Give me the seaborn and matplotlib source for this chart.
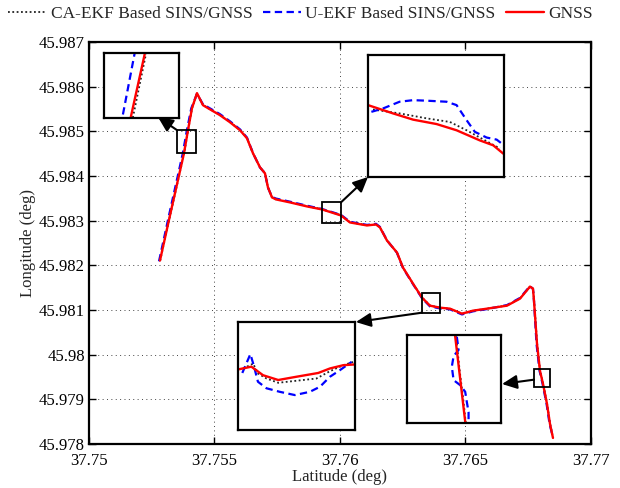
import matplotlib
matplotlib.use("Agg")
import matplotlib.pyplot as plt
import seaborn as sns
from matplotlib.patches import Rectangle

# ---------------- main track data (lat, lon in deg) ----------------
gnss_lat = [37.752829, 37.753227, 37.753785, 37.753944, 37.754104, 37.754303, 37.754542, 37.754741,
            37.755219, 37.755617, 37.756016, 37.756295, 37.756534, 37.756813, 37.757012, 37.757131,
            37.757291, 37.757450, 37.758008, 37.758685, 37.759283, 37.760040, 37.760398, 37.761076,
            37.761434, 37.761593, 37.761872, 37.762271, 37.762510, 37.762908, 37.763267, 37.763586,
            37.763984, 37.764382, 37.764860, 37.765298, 37.765856, 37.766653, 37.767171, 37.767570,
            37.767689, 37.767729, 37.767849, 37.767968, 37.768088, 37.768247, 37.768367, 37.768486]
gnss_lon = [45.982107, 45.983117, 45.984509, 45.985025, 45.985519, 45.985855, 45.985586, 45.985519,
            45.985362, 45.985204, 45.985025, 45.984845, 45.984509, 45.984195, 45.984060, 45.983746,
            45.983521, 45.983476, 45.983409, 45.983319, 45.983252, 45.983117, 45.982960, 45.982893,
            45.982915, 45.982848, 45.982556, 45.982287, 45.981950, 45.981591, 45.981277, 45.981097,
            45.981052, 45.981030, 45.980918, 45.980985, 45.981030, 45.981097, 45.981254, 45.981524,
            45.981479, 45.981209, 45.980244, 45.979638, 45.979347, 45.978898, 45.978449, 45.978135]

uekf_lat = [37.752790, 37.753185, 37.753735, 37.753900, 37.754075, 37.754303, 37.754542, 37.754741,
            37.755219, 37.755617, 37.756016, 37.756295, 37.756534, 37.756813, 37.757012, 37.757131,
            37.757291, 37.757450, 37.758008, 37.758685, 37.759283, 37.760040, 37.760398, 37.761076,
            37.761434, 37.761593, 37.761872, 37.762271, 37.762510, 37.762908, 37.763267, 37.763586,
            37.763984, 37.764382, 37.764860, 37.765298, 37.765856, 37.766653, 37.767171, 37.767570,
            37.767689, 37.767729, 37.767830, 37.767950, 37.768070, 37.768230, 37.768350, 37.768486]
uekf_lon = [45.982090, 45.983110, 45.984500, 45.985020, 45.985515, 45.985840, 45.985605, 45.985540,
            45.985385, 45.985225, 45.985045, 45.984860, 45.984515, 45.984190, 45.984065, 45.983740,
            45.983530, 45.983495, 45.983425, 45.983335, 45.983262, 45.983130, 45.982975, 45.982905,
            45.982930, 45.982860, 45.982560, 45.982280, 45.981940, 45.981580, 45.981265, 45.981080,
            45.981035, 45.981015, 45.980900, 45.980970, 45.981020, 45.981110, 45.981270, 45.981535,
            45.981470, 45.981200, 45.980240, 45.979640, 45.979350, 45.978900, 45.978450, 45.978150]

caekf_lat = [37.752835, 37.753232, 37.753790, 37.753950, 37.754108, 37.754303, 37.754542, 37.754741,
             37.755219, 37.755617, 37.756016, 37.756295, 37.756534, 37.756813, 37.757012, 37.757131,
             37.757291, 37.757450, 37.758008, 37.758685, 37.759283, 37.760040, 37.760398, 37.761076,
             37.761434, 37.761593, 37.761872, 37.762271, 37.762510, 37.762908, 37.763267, 37.763586,
             37.763984, 37.764382, 37.764860, 37.765298, 37.765856, 37.766653, 37.767171, 37.767570,
             37.767689, 37.767735, 37.767855, 37.767975, 37.768095, 37.768252, 37.768372, 37.768490]
caekf_lon = [45.982105, 45.983115, 45.984505, 45.985025, 45.985520, 45.985850, 45.985590, 45.985525,
             45.985365, 45.985210, 45.985030, 45.984850, 45.984510, 45.984195, 45.984062, 45.983745,
             45.983525, 45.983480, 45.983412, 45.983325, 45.983258, 45.983122, 45.982965, 45.982898,
             45.982918, 45.982850, 45.982556, 45.982287, 45.981950, 45.981591, 45.981280, 45.981100,
             45.981050, 45.981028, 45.980915, 45.980982, 45.981030, 45.981100, 45.981258, 45.981524,
             45.981479, 45.981209, 45.980244, 45.979638, 45.979347, 45.978898, 45.978449, 45.978135]

# ---------------- zoom boxes (lat range, lon range) ----------------
box1_lat = [37.75350, 37.75428]; box1_lon = [45.98451, 45.98503]
box2_lat = [37.75928, 37.76004]; box2_lon = [45.98294, 45.98341]
box3_lat = [37.76327, 37.76398]; box3_lon = [45.98094, 45.98137]
box4_lat = [37.76773, 37.76837]; box4_lon = [45.97928, 45.97968]

# ---------------- inset detail data ----------------
in1_g_lat = [37.753774, 37.753929]; in1_g_lon = [45.98450, 45.98504]
in1_u_lat = [37.753697, 37.753822]; in1_u_lon = [45.984538, 45.98504]
in1_c_lat = [37.753800, 37.753940]; in1_c_lon = [45.984512, 45.985035]

in2_g_lat = [37.75928, 37.75942, 37.759532, 37.759663, 37.759775, 37.759905, 37.75998, 37.760036]
in2_g_lon = [45.983217, 45.983185, 45.983161, 45.983144, 45.98312, 45.983081, 45.983062, 45.98303]
in2_u_lat = [37.759299, 37.759364, 37.759457, 37.759532, 37.759607, 37.759719, 37.759775, 37.759831,
             37.759877, 37.759943, 37.759999, 37.760027]
in2_u_lon = [45.983191, 45.983204, 45.983230, 45.983236, 45.983234, 45.983230, 45.983217, 45.983159,
             45.983114, 45.983092, 45.983084, 45.983069]
in2_c_lat = [37.759308, 37.759457, 37.759607, 37.759738, 37.759831, 37.759905, 37.760017]
in2_c_lon = [45.983200, 45.983185, 45.983166, 45.983152, 45.983120, 45.983092, 45.983050]

in3_g_lat = [37.76327, 37.763351, 37.763422, 37.763514, 37.763625, 37.763757, 37.763828, 37.763909, 37.76398]
in3_g_lon = [45.981181, 45.981192, 45.981158, 45.981139, 45.981152, 45.981167, 45.981185, 45.981198, 45.981201]
in3_u_lat = [37.763296, 37.763320, 37.763345, 37.763365, 37.763391, 37.763443, 37.763523, 37.763615,
             37.763706, 37.763767, 37.763828, 37.763888, 37.763959]
in3_u_lon = [45.981167, 45.981204, 45.981242, 45.981198, 45.981132, 45.981106, 45.981092, 45.981079,
             45.981092, 45.981112, 45.981152, 45.981178, 45.981211]
in3_c_lat = [37.763301, 37.763362, 37.763391, 37.763443, 37.763514, 37.763625, 37.763746, 37.763828,
             37.763909, 37.76397]
in3_c_lon = [45.981185, 45.981204, 45.981165, 45.981145, 45.981128, 45.981136, 45.981145, 45.981174,
             45.981198, 45.981211]

in4_g_lat = [37.768055, 37.768129]; in4_g_lon = [45.97969, 45.97927]
in4_u_lat = [37.768069, 37.768081, 37.768047, 37.768035, 37.768047, 37.768092, 37.768126, 37.768137,
             37.768149, 37.768149]
in4_u_lon = [45.979672, 45.979612, 45.979584, 45.979536, 45.979475, 45.979452, 45.979422, 45.979376,
             45.979330, 45.979284]
in4_c_lat = [37.768063, 37.768088, 37.768114, 37.76813]
in4_c_lon = [45.97968, 45.97952, 45.97938, 45.97928]

# ---------------- ticks / labels ----------------
xticks = [37.75, 37.755, 37.76, 37.765, 37.77]
xtick_labels = ["37.75", "37.755", "37.76", "37.765", "37.77"]
yticks = [45.978, 45.979, 45.98, 45.981, 45.982, 45.983, 45.984, 45.985, 45.986, 45.987]
ytick_labels = ["45.978", "45.979", "45.98", "45.981", "45.982", "45.983", "45.984", "45.985", "45.986", "45.987"]
series_names = ["CA-EKF Based SINS/GNSS", "U-EKF Based SINS/GNSS", "GNSS"]

sns.set_theme(style="ticks")
plt.rcParams["font.family"] = ["Liberation Serif", "DejaVu Serif"]
plt.rcParams["font.size"] = 12

RED = "#ff0000"
BLUE = "#0000ff"
DOT = "#222222"

fig = plt.figure(figsize=(6.2, 4.88), dpi=100)
ax = fig.add_axes([0.1435, 0.0902, 0.8097, 0.8237])


def draw_series(axis, c_lat, c_lon, u_lat, u_lon, g_lat, g_lon, scale=1.0, labels=False):
    kw = dict(sort=False, estimator=None, ax=axis)
    sns.lineplot(x=c_lat, y=c_lon, color=DOT, lw=1.3 * scale, linestyle=(0, (1, 1.4)),
                 label=series_names[0] if labels else None, **kw)
    sns.lineplot(x=u_lat, y=u_lon, color=BLUE, lw=1.6 * scale, linestyle=(0, (3.3, 2.0)),
                 label=series_names[1] if labels else None, **kw)
    sns.lineplot(x=g_lat, y=g_lon, color=RED, lw=1.7 * scale,
                 label=series_names[2] if labels else None, **kw)


draw_series(ax, caekf_lat, caekf_lon, uekf_lat, uekf_lon, gnss_lat, gnss_lon, labels=True)

ax.set_xlim(37.75, 37.77)
ax.set_ylim(45.978, 45.987)
ax.set_xticks(xticks)
ax.set_xticklabels(xtick_labels)
ax.set_yticks(yticks)
ax.set_yticklabels(ytick_labels)
ax.set_xlabel("Latitude (deg)", fontsize=12, labelpad=0)
ax.set_ylabel("Longitude (deg)", fontsize=12, labelpad=2)
ax.tick_params(direction="in", length=5, width=1.0, top=True, right=True, labelsize=12,
               colors="black", pad=3)
ax.tick_params(axis="x", pad=6.5)
ax.grid(True, linestyle=(0, (1, 3.5)), color="#444444", lw=0.7)
for s in ax.spines.values():
    s.set_linewidth(1.6)
    s.set_color("black")
    s.set_visible(True)

handles, labels = ax.get_legend_handles_labels()
ax.get_legend().remove()
fig.legend(handles, labels, loc="center", bbox_to_anchor=(0.4847, 0.971), ncol=3, frameon=False,
           handlelength=2.2, handletextpad=0.25, columnspacing=0.6, fontsize=12.5,
           borderaxespad=0, borderpad=0)

# zoom rectangles on main axes
for bl, bo in [(box1_lat, box1_lon), (box2_lat, box2_lon), (box3_lat, box3_lon), (box4_lat, box4_lon)]:
    ax.add_patch(Rectangle((bl[0], bo[0]), bl[1] - bl[0], bo[1] - bo[0], fill=False,
                           ec="black", lw=1.3, zorder=6))

# arrows: tail at the zoom box, head at the inset (figure fraction)
arrow_kw = dict(arrowstyle="-|>,head_length=0.75,head_width=0.35", color="black", lw=1.5,
                shrinkA=0, shrinkB=0)
ax.annotate("", xy=(0.2548, 0.760), xycoords="figure fraction",
            xytext=(box1_lat[0], box1_lon[1]), textcoords="data", arrowprops=arrow_kw, zorder=7)
ax.annotate("", xy=(0.5935, 0.6373), xycoords="figure fraction",
            xytext=(box2_lat[1], box2_lon[1]), textcoords="data", arrowprops=arrow_kw, zorder=7)
ax.annotate("", xy=(0.574, 0.340), xycoords="figure fraction",
            xytext=(box3_lat[0], box3_lon[0]), textcoords="data", arrowprops=arrow_kw, zorder=7)
ax.annotate("", xy=(0.8097, 0.2131), xycoords="figure fraction",
            xytext=(box4_lat[0], 45.97944), textcoords="data", arrowprops=arrow_kw, zorder=7)

# insets
inset_specs = [
    ([0.1677, 0.7582, 0.1210, 0.1332], box1_lat, box1_lon,
     in1_c_lat, in1_c_lon, in1_u_lat, in1_u_lon, in1_g_lat, in1_g_lon),
    ([0.5935, 0.6373, 0.2194, 0.2500], box2_lat, box2_lon,
     in2_c_lat, in2_c_lon, in2_u_lat, in2_u_lon, in2_g_lat, in2_g_lon),
    ([0.3839, 0.1189, 0.1887, 0.2213], box3_lat, box3_lon,
     in3_c_lat, in3_c_lon, in3_u_lat, in3_u_lon, in3_g_lat, in3_g_lon),
    ([0.6565, 0.1332, 0.1516, 0.1803], box4_lat, box4_lon,
     in4_c_lat, in4_c_lon, in4_u_lat, in4_u_lon, in4_g_lat, in4_g_lon),
]
for rect, bl, bo, cla, clo, ula, ulo, gla, glo in inset_specs:
    iax = fig.add_axes(rect)
    iax.set_facecolor("white")
    draw_series(iax, cla, clo, ula, ulo, gla, glo, scale=1.0)
    iax.set_xlim(bl)
    iax.set_ylim(bo)
    iax.set_xticks([])
    iax.set_yticks([])
    iax.set_xlabel("")
    iax.set_ylabel("")
    if iax.get_legend() is not None:
        iax.get_legend().remove()
    for s in iax.spines.values():
        s.set_linewidth(1.6)
        s.set_color("black")
        s.set_visible(True)

fig.savefig("out.png", dpi=100, facecolor="white")
